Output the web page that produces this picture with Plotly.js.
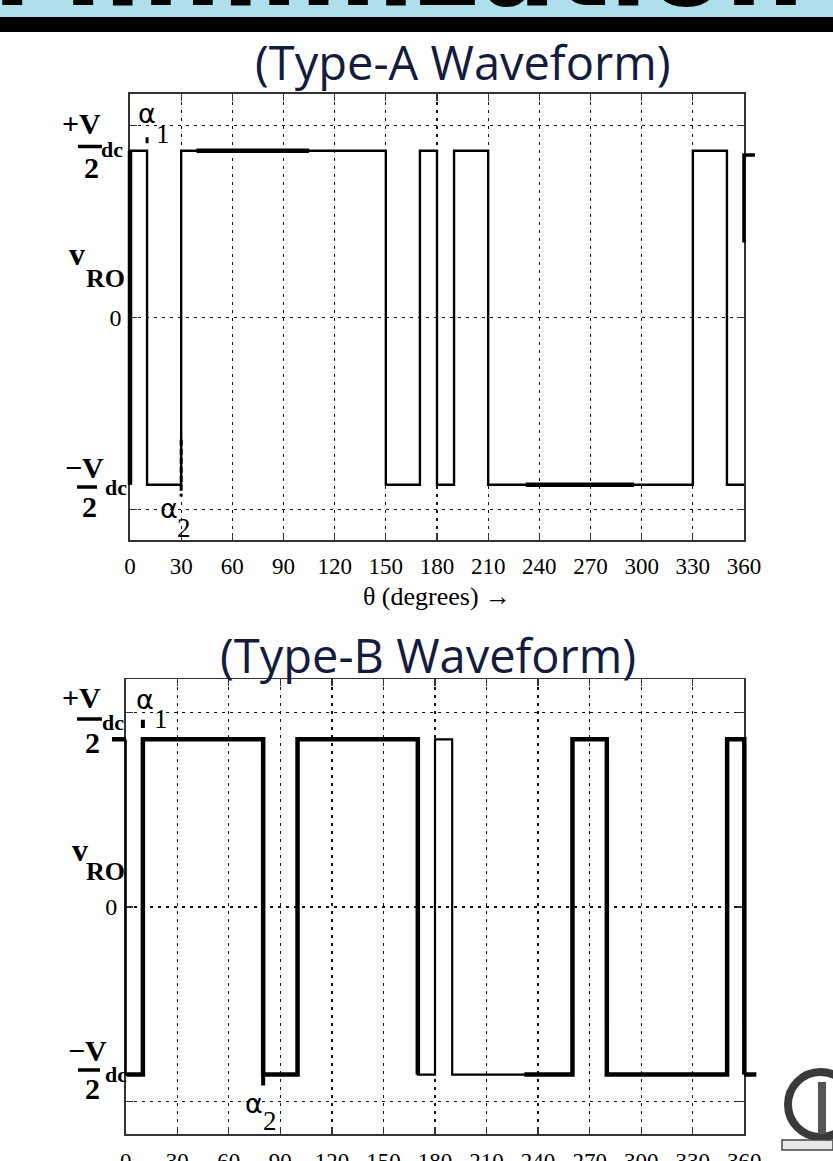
<!DOCTYPE html>
<html>
<head>
<meta charset="utf-8">
<script src="https://cdn.plot.ly/plotly-3.0.1.min.js"></script>
<style>html,body{margin:0;padding:0;background:#fff;}#chart{width:833px;height:1161px;}</style>
</head>
<body>
<div id="chart"></div>
<script>
// ---------------- data ----------------
const thetaTicks = [0, 30, 60, 90, 120, 150, 180, 210, 240, 270, 300, 330, 360];
const thetaTickLabels = ['0', '30', '60', '90', '120', '150', '180', '210', '240', '270', '300', '330', '360'];

// Type-A waveform: switching angles (deg) and the level (in units of Vdc/2) after each switch
const anglesA = [0, 0, 10, 30, 150, 170, 180, 190, 210, 330, 350, 360];
const levelsA = [-1, 1, -1, 1, -1, 1, -1, 1, -1, 1, -1, -1];
// Type-B waveform
const anglesB = [0, 0, 10, 80, 100, 170, 180, 190, 260, 280, 350, 360, 360];
const levelsB = [1, -1, 1, -1, 1, -1, 1, -1, 1, -1, 1, 1, -1];

// parts of each waveform drawn with a heavier stroke in the picture
const heavyRangesA = [[0, 0], [39, 105], [232, 295.5]];
const heavyRangesB = [[0.5, 170], [232, 360]];

// alpha pointer marks
const alphaMarkA_x = [10, 10, null, 30, 30];
const alphaMarkA_y = [1.045, 1.085, null, -0.73, -1.07];
const alphaMarkB_x = [10, 10, null, 80, 80];
const alphaMarkB_y = [1.068, 1.116, null, -1, -1.065];

// small stray stubs at the edges of the plots
const edgeA_x = [360, 360, 366.4];
const edgeA_y = [0.45, 0.974, 0.974];
const edgeB_x = [-8, 0, null, 360, 367];
const edgeB_y = [1, 1, null, -1, -1];

// levels of the horizontal grid lines
const gridLevelsA = [-1.15, 0, 1.15];
const gridLevelsB = [-1.16, 0, 1.16];
const yTickLabels = ['', '0', ''];
const yRangeA = [-1.331, 1.34];
const yRangeB = [-1.356, 1.358];

// ---------------- helpers ----------------
function stepVertices(ang, lev) {
  const v = [[ang[0], lev[0]]];
  for (let i = 1; i < ang.length; i++) {
    v.push([ang[i], lev[i - 1]]);
    v.push([ang[i], lev[i]]);
  }
  return v;
}
function fullPath(ang, lev) {
  const v = stepVertices(ang, lev);
  return {x: v.map(p => p[0]), y: v.map(p => p[1])};
}
function clippedPath(ang, lev, ranges) {
  const v = stepVertices(ang, lev);
  const xs = [], ys = [];
  ranges.forEach((r, k) => {
    const [x0, x1] = r;
    if (k > 0) { xs.push(null); ys.push(null); }
    for (let i = 0; i < v.length - 1; i++) {
      const [ax, ay] = v[i], [bx, by] = v[i + 1];
      if (ax === bx) {
        if (ax >= x0 && ax <= x1) { xs.push(ax, bx); ys.push(ay, by); }
      } else {
        const lo = Math.max(x0, Math.min(ax, bx)), hi = Math.min(x1, Math.max(ax, bx));
        if (lo <= hi) { xs.push(lo, hi); ys.push(ay, ay); }
      }
    }
  });
  return {x: xs, y: ys};
}

const W = 833, H = 1161;
const px = x => x / W;
const py = y => 1 - y / H;

const serif = 'Liberation Serif, Times New Roman, serif';
const black = '#000';

// plot frames in pixels
const frameA = {l: 130, r: 744, t: 94, b: 540};
const frameB = {l: 125.7, r: 744.3, t: 679.3, b: 1134.3};

// wider invisible axes with the same scale, so that waveform strokes on the frame are not cut
function wideX(frame, yAnchor) {
  const s = (frame.r - frame.l) / 360;
  const L = frame.l - 30, R = frame.r + 30;
  return {domain: [px(L), px(R)], anchor: yAnchor, range: [(L - frame.l) / s, 360 + (R - frame.r) / s],
          visible: false, showgrid: false, zeroline: false, fixedrange: true};
}
function wideY(frame, xAnchor, range) {
  return {domain: [py(frame.b), py(frame.t)], anchor: xAnchor, range: range,
          visible: false, showgrid: false, zeroline: false, fixedrange: true};
}

const pA = fullPath(anglesA, levelsA);
const hA = clippedPath(anglesA, levelsA, heavyRangesA);
const pB = fullPath(anglesB, levelsB);
const hB = clippedPath(anglesB, levelsB, heavyRangesB);

const lineTrace = (d, xa, ya, w, dash) => ({
  x: d.x, y: d.y, xaxis: xa, yaxis: ya, type: 'scatter', mode: 'lines',
  line: {color: black, width: w, dash: dash || 'solid'}, hoverinfo: 'skip', showlegend: false
});
// anchor traces so the framed subplots exist (nothing visible)
const holder = (xa, ya) => ({x: [180], y: [0], xaxis: xa, yaxis: ya, type: 'scatter', mode: 'markers',
  marker: {opacity: 0, size: 1}, hoverinfo: 'skip', showlegend: false});

const traces = [
  holder('x', 'y'),
  holder('x2', 'y2'),
  lineTrace(pA, 'x3', 'y3', 2.4),
  lineTrace(hA, 'x3', 'y3', 4.5),
  lineTrace({x: alphaMarkA_x, y: alphaMarkA_y}, 'x3', 'y3', 3, '6px,3px'),
  lineTrace({x: edgeA_x, y: edgeA_y}, 'x3', 'y3', 3.5),
  lineTrace(pB, 'x4', 'y4', 2.2),
  lineTrace(hB, 'x4', 'y4', 4.5),
  lineTrace({x: alphaMarkB_x, y: alphaMarkB_y}, 'x4', 'y4', 4),
  lineTrace({x: edgeB_x, y: edgeB_y}, 'x4', 'y4', 4.5)
];

function xAxis(frame, yAnchor, withTitle) {
  const ax = {
    domain: [px(frame.l), px(frame.r)], anchor: yAnchor, range: [0, 360],
    tickmode: 'array', tickvals: thetaTicks, ticktext: thetaTickLabels,
    ticks: 'inside', ticklen: 7, tickwidth: 1.3, tickcolor: '#333', mirror: 'ticks',
    showline: true, linecolor: '#333', linewidth: 1.6,
    showgrid: true, gridcolor: '#111', gridwidth: 1.3, griddash: '3px,5px', zeroline: false,
    tickfont: {family: serif, size: 23, color: black}, ticklabelstandoff: 5,
    fixedrange: true
  };
  if (withTitle) ax.title = {text: 'θ (degrees) →', font: {family: serif, size: 26, color: black}, standoff: 8};
  return ax;
}
function yAxis(frame, xAnchor, range, grid) {
  return {
    domain: [py(frame.b), py(frame.t)], anchor: xAnchor, range: range,
    tickmode: 'array', tickvals: grid, ticktext: yTickLabels,
    ticks: 'inside', ticklen: 7, tickwidth: 1.3, tickcolor: '#333', mirror: 'ticks',
    showline: true, linecolor: '#333', linewidth: 1.6,
    showgrid: true, gridcolor: '#111', gridwidth: 1.3, griddash: '3px,5px', zeroline: false,
    tickfont: {family: serif, size: 24, color: black}, ticklabelstandoff: 2,
    fixedrange: true
  };
}

function lab(text, x, y, size, bold, family, color) {
  return {
    text: text, xref: 'paper', yref: 'paper', x: px(x), y: py(y),
    xanchor: 'center', yanchor: 'middle', showarrow: false, borderpad: 0,
    font: {family: family || serif, size: size, color: color || black, weight: bold ? 'bold' : 'normal'}
  };
}
function bar(x0, x1, y, w) {
  return {type: 'line', xref: 'paper', yref: 'paper', x0: px(x0), x1: px(x1), y0: py(y), y1: py(y),
          line: {color: black, width: w || 3.5}};
}

const titleFont = 'Open Sans, Noto Sans, sans-serif';
const titleColor = '#151b3c';
const alphaFont = 'DejaVu Sans, sans-serif';

const annotations = [
  // banner word (mostly cut off at the top)
  {text: 'Minimization', xref: 'paper', yref: 'paper', x: px(806), y: py(33), xanchor: 'right', yanchor: 'bottom',
   showarrow: false, font: {family: 'DejaVu Sans, sans-serif', size: 112, color: black, weight: 'bold'}},
  // titles
  lab('(Type-A Waveform)', 463, 62, 47, false, titleFont, titleColor),
  lab('(Type-B Waveform)', 428, 655, 47, false, titleFont, titleColor),
  // Type-A y labels
  lab('+V', 81, 123, 30, true),
  lab('dc', 112, 149.5, 22, true),
  lab('2', 91, 167, 30, true),
  lab('v', 77, 254, 32, true),
  lab('RO', 105, 278, 26, true),
  lab('\u2212V', 84, 467, 30, true),
  lab('dc', 116, 487.5, 22, true),
  lab('2', 89, 507, 30, true),
  lab('\u03b1', 146.5, 114, 27, false, alphaFont),
  lab('1', 163, 134, 27),
  lab('\u03b1', 169, 508, 27, false, alphaFont),
  lab('2', 184, 528, 27),
  // Type-B y labels
  lab('+V', 81, 697, 30, true),
  lab('dc', 112.5, 722.5, 22, true),
  lab('2', 92.5, 742, 30, true),
  lab('v', 80, 850, 32, true),
  lab('RO', 105, 871, 26, true),
  lab('\u2212V', 87.5, 1050, 30, true),
  lab('dc', 115.5, 1074.5, 22, true),
  lab('2', 92.5, 1088, 30, true),
  lab('\u03b1', 145, 699, 27, false, alphaFont),
  lab('1', 161, 719, 27),
  lab('\u03b1', 254, 1103, 27, false, alphaFont),
  lab('2', 270, 1121, 27)
];

const shapes = [
  {type: 'rect', xref: 'paper', yref: 'paper', x0: 0, x1: 1, y0: py(17), y1: 1.02, fillcolor: '#aedfea', line: {width: 0}, layer: 'below'},
  {type: 'rect', xref: 'paper', yref: 'paper', x0: 0, x1: 1, y0: py(32), y1: py(17), fillcolor: '#000', line: {width: 0}, layer: 'below'},
  bar(78, 102, 146.5, 3.5),
  bar(77, 97, 487, 3.5),
  bar(77, 102, 719, 3.5),
  bar(78, 100, 1070, 3.5),
  // logo emblem (bottom right)
  {type: 'circle', xref: 'paper', yref: 'paper', x0: px(788), x1: px(853), y0: py(1137), y1: py(1072),
   line: {color: '#3a3a3a', width: 8}, fillcolor: 'rgba(0,0,0,0)'},
  {type: 'rect', xref: 'paper', yref: 'paper', x0: px(818), x1: px(826), y0: py(1134), y1: py(1082),
   line: {width: 0}, fillcolor: '#555'},
  {type: 'rect', xref: 'paper', yref: 'paper', x0: px(782), x1: px(833), y0: py(1150), y1: py(1140),
   line: {color: '#444', width: 1.5}, fillcolor: '#e8e8e8'}
];

const layout = {
  width: W, height: H, margin: {l: 0, r: 0, t: 0, b: 0},
  paper_bgcolor: '#fff', plot_bgcolor: 'rgba(0,0,0,0)', showlegend: false,
  xaxis: xAxis(frameA, 'y', true),
  yaxis: yAxis(frameA, 'x', yRangeA, gridLevelsA),
  xaxis2: xAxis(frameB, 'y2', false),
  yaxis2: yAxis(frameB, 'x2', yRangeB, gridLevelsB),
  xaxis3: wideX(frameA, 'y3'),
  yaxis3: wideY(frameA, 'x3', yRangeA),
  xaxis4: wideX(frameB, 'y4'),
  yaxis4: wideY(frameB, 'x4', yRangeB),
  annotations: annotations,
  shapes: shapes
};

Plotly.newPlot('chart', traces, layout, {staticPlot: true, displayModeBar: false});
</script>
</body>
</html>
